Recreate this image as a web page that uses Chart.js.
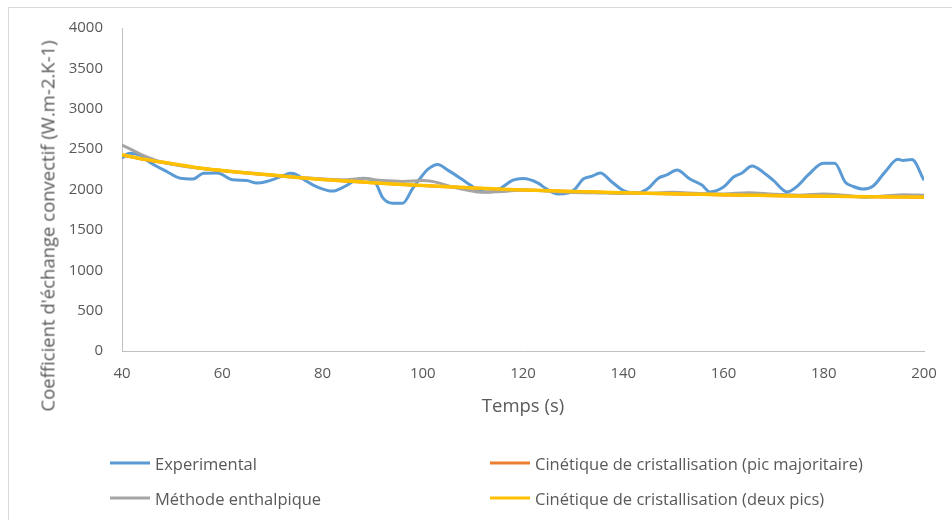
<!DOCTYPE html>
<html>
<head>
<meta charset="utf-8">
<script src="https://cdn.jsdelivr.net/npm/chart.js"></script>
<style>
    html, body { margin: 0; padding: 0; background: #fff; overflow: hidden; }
    #wrap { position: relative; width: 952px; height: 520px; font-family: "Open Sans", sans-serif; color: #595959; }
    #frame { position: absolute; left: 8px; top: 7px; width: 1000px; height: 600px; border: 1px solid #d9d9d9; box-sizing: border-box; }
    #chart { position: absolute; left: 0; top: 0; }
    #ytitle { position: absolute; left: 47px; top: 226px; transform: translate(-50%, -50%) rotate(-90deg); white-space: nowrap; font-size: 18.5px; }
    .legend-item { position: absolute; display: flex; align-items: center; font-size: 16.5px; white-space: nowrap; transform: translateY(-50%); }
    .legend-item i { display: inline-block; width: 40px; height: 3px; margin-right: 5px; }
</style>
</head>
<body>
<div id="wrap">
    <div id="frame"></div>
    <canvas id="chart" width="952" height="520"></canvas>
    <div id="ytitle">Coefficient d'échange convectif (W.m-2.K-1)</div>
    <div id="legend"></div>
</div>
<script>
// Mesures : coefficient d'échange en fonction du temps
const expTime = [40, 41.5, 43.6, 45.6, 49, 51.6, 54.2, 56.2, 59, 62.1, 64.9, 66.9, 68.9, 72.1, 73.5,
    74.8, 76.5, 79, 82, 84.5, 86.5, 88, 90.5, 92, 94, 96, 98, 100, 101, 103, 105, 107.5, 109.5, 111,
    113.5, 115.5, 118, 120, 123, 124.5, 127, 129, 130.5, 132, 133.8, 135.4, 137.8, 140.3, 143, 145,
    147, 148.7, 150.7, 153.3, 155.7, 157.3, 160, 162, 163.7, 165.7, 167.9, 169.9, 172.7, 174.5, 176.9,
    179.9, 182.2, 184.3, 185.8, 187.8, 189.8, 192.2, 194.8, 195.8, 197.6, 200];
const expValues = [2390, 2450, 2425, 2335, 2220, 2140, 2130, 2200, 2205, 2120, 2110, 2080, 2100, 2170, 2200,
    2185, 2115, 2030, 1980, 2040, 2115, 2140, 2090, 1900, 1830, 1830, 2015, 2180, 2250, 2310, 2240, 2140,
    2055, 1990, 1970, 2015, 2115, 2135, 2080, 2015, 1945, 1955, 2015, 2130, 2165, 2205, 2090, 1980, 1960,
    2015, 2140, 2180, 2240, 2130, 2055, 1970, 2030, 2155, 2205, 2290, 2215, 2115, 1970, 2030, 2180,
    2325, 2325, 2090, 2040, 2005, 2040, 2215, 2375, 2360, 2370, 2115];

// Modèles
const enthTime = [40, 42, 44, 46, 48, 52, 56, 60, 66, 72, 78, 84, 88, 92, 96, 100, 103, 106, 109, 112,
    116, 120, 124, 128, 134, 140, 146, 150, 155, 160, 165, 170, 175, 180, 184, 188, 192, 196, 200];
const enthValues = [2550, 2490, 2430, 2380, 2340, 2290, 2260, 2235, 2200, 2165, 2140, 2120, 2135, 2110,
    2100, 2110, 2085, 2030, 1990, 1965, 1975, 1995, 1985, 1965, 1960, 1950, 1955, 1965, 1950, 1945,
    1960, 1940, 1930, 1945, 1930, 1905, 1920, 1935, 1930];

const cinTime = [40, 45, 50, 55, 60, 65, 70, 75, 80, 85, 90, 95, 100, 105, 110, 115, 120, 125, 130,
    135, 140, 145, 150, 155, 160, 165, 170, 175, 180, 185, 190, 195, 200];
const picMajValues = [2425, 2365, 2315, 2268, 2232, 2203, 2177, 2148, 2123, 2103, 2083, 2064, 2048,
    2033, 2018, 2004, 1993, 1983, 1974, 1966, 1958, 1951, 1945, 1939, 1933, 1928, 1923, 1919, 1915,
    1912, 1909, 1906, 1903];
const deuxPicsValues = [2430, 2370, 2320, 2270, 2235, 2205, 2180, 2150, 2125, 2105, 2085, 2065, 2050,
    2035, 2020, 2005, 1995, 1985, 1975, 1968, 1960, 1953, 1947, 1940, 1935, 1930, 1925, 1920, 1917,
    1913, 1910, 1908, 1905];

const xTicks = [40, 60, 80, 100, 120, 140, 160, 180, 200];
const yTicks = [0, 500, 1000, 1500, 2000, 2500, 3000, 3500, 4000];

const series = [
    { label: 'Experimental', time: expTime, values: expValues, color: '#5b9bd5', width: 3 },
    { label: 'Cinétique de cristallisation (pic majoritaire)', time: cinTime, values: picMajValues, color: '#ed7d31', width: 3 },
    { label: 'Méthode enthalpique', time: enthTime, values: enthValues, color: '#a5a5a5', width: 3 },
    { label: 'Cinétique de cristallisation (deux pics)', time: cinTime, values: deuxPicsValues, color: '#ffc000', width: 3.5 }
];

const toPoints = (time, values) => time.map((t, i) => ({ x: t, y: values[i] }));

const datasets = series.map((s, i) => ({
    label: s.label,
    data: toPoints(s.time, s.values),
    borderColor: s.color,
    borderWidth: s.width,
    pointRadius: 0,
    fill: false,
    cubicInterpolationMode: 'monotone',
    // la dernière série est tracée au-dessus
    order: series.length - i
}));

const tickFont = { family: 'Open Sans', size: 15 };
const plainNumber = (value) => String(value);

new Chart(document.getElementById('chart'), {
    type: 'line',
    data: { datasets },
    options: {
        responsive: false,
        animation: false,
        events: [],
        layout: { padding: { left: 0, right: 28, top: 28, bottom: 99 } },
        plugins: { legend: { display: false }, tooltip: { enabled: false } },
        scales: {
            x: {
                type: 'linear',
                min: 40,
                max: 200,
                afterBuildTicks: (scale) => { scale.ticks = xTicks.map(v => ({ value: v })); },
                afterFit: (scale) => { scale.height = 70; },
                grid: { display: false, drawTicks: false },
                border: { display: true, color: '#bfbfbf', width: 1 },
                ticks: { color: '#595959', font: tickFont, padding: 14, maxRotation: 0, callback: plainNumber },
                title: { display: true, text: 'Temps (s)', color: '#595959', font: { family: 'Open Sans', size: 18.5 }, padding: { top: 4, bottom: 3 } }
            },
            y: {
                min: 0,
                max: 4000,
                afterBuildTicks: (scale) => { scale.ticks = yTicks.map(v => ({ value: v })); },
                afterFit: (scale) => { scale.width = 122; },
                grid: { display: false, drawTicks: false },
                border: { display: true, color: '#bfbfbf', width: 1 },
                ticks: { color: '#595959', font: tickFont, padding: 19, callback: plainNumber }
            }
        }
    }
});

// Légende sur deux colonnes
const legendSlots = [
    { left: 110, top: 463 },
    { left: 490, top: 463 },
    { left: 110, top: 498 },
    { left: 490, top: 498 }
];
const legend = document.getElementById('legend');
series.forEach((s, i) => {
    const item = document.createElement('div');
    item.className = 'legend-item';
    item.style.left = legendSlots[i].left + 'px';
    item.style.top = legendSlots[i].top + 'px';
    item.innerHTML = `<i style="background:${s.color}"></i><span>${s.label}</span>`;
    legend.appendChild(item);
});
</script>
</body>
</html>
